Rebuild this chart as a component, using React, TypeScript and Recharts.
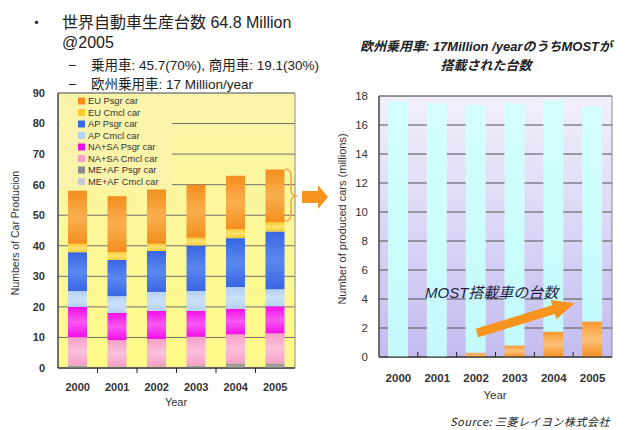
import { BarChart, Bar, XAxis, YAxis, CartesianGrid, ReferenceArea } from 'recharts';

// --- world production, millions of cars (stack order bottom -> top)
const years = ['2000', '2001', '2002', '2003', '2004', '2005'];
const meafCmcl = [0.3, 0.2, 0.2, 0.3, 0.4, 0.4];
const meafPsgr = [0.5, 0.3, 0.3, 0.5, 1.1, 1.1];
const nasaCmcl = [9.3, 8.6, 9.0, 9.4, 9.5, 9.8];
const nasaPsgr = [9.9, 8.9, 9.2, 8.5, 8.4, 8.9];
const apCmcl = [5.2, 5.5, 6.2, 6.5, 7.1, 5.6];
const apPsgr = [12.7, 11.9, 13.4, 14.9, 16.0, 18.9];
const euCmcl = [2.8, 2.6, 2.4, 2.5, 3.0, 3.0];
const euPsgr = [17.3, 18.2, 17.7, 17.4, 17.4, 17.3];
const leftTicks = [0, 10, 20, 30, 40, 50, 60, 70, 80, 90];

// --- EU passenger cars and cars fitted with MOST
const euTotal = [17.6, 17.5, 17.4, 17.5, 17.7, 17.3];
const mostCars = [0, 0, 0.3, 0.8, 1.75, 2.45];
const rightTicks = [0, 2, 4, 6, 8, 10, 12, 14, 16, 18];

const series = [
  { key: 'meafCmcl', name: 'ME+AF Cmcl car', values: meafCmcl, color: '#c8c8d6', light: '#d8d8e2' },
  { key: 'meafPsgr', name: 'ME+AF Psgr car', values: meafPsgr, color: '#8a8a8e', light: '#a4a4a8' },
  { key: 'nasaCmcl', name: 'NA+SA Cmcl car', values: nasaCmcl, color: '#f5a0c8', light: '#fbc0da' },
  { key: 'nasaPsgr', name: 'NA+SA Psgr car', values: nasaPsgr, color: '#f010e8', light: '#f858f0' },
  { key: 'apCmcl', name: 'AP Cmcl car', values: apCmcl, color: '#b4d0f4', light: '#cce0f8' },
  { key: 'apPsgr', name: 'AP Psgr car', values: apPsgr, color: '#3866e4', light: '#5a88ee' },
  { key: 'euCmcl', name: 'EU Cmcl car', values: euCmcl, color: '#f8cc30', light: '#fce070' },
  { key: 'euPsgr', name: 'EU Psgr car', values: euPsgr, color: '#f38e1c', light: '#f9b050' },
];

const worldData = years.map((year, i) => {
  const row: Record<string, any> = { year };
  series.forEach((s) => {
    row[s.key] = s.values[i];
  });
  return row;
});

const euData = years.map((year, i) => ({
  year,
  most: mostCars[i],
  rest: +(euTotal[i] - mostCars[i]).toFixed(2),
}));

const FONT = "'Liberation Sans', 'Noto Sans CJK JP', sans-serif";
const JP = "'Noto Sans CJK JP', 'Liberation Sans', sans-serif";

const L_BAND = (295 - 58) / years.length;
const R_BAND = (612 - 379) / years.length;

function LeftYearTick(props: any) {
  const { x, y, payload, index } = props;
  return (
    <g>
      {index < years.length - 1 && (
        <line x1={x + L_BAND / 2} x2={x + L_BAND / 2} y1={y} y2={y + 5} stroke="#222" />
      )}
      <text x={x} y={y + 23} textAnchor="middle" fontSize={11} fontWeight="bold" fill="#333" fontFamily={FONT}>
        {payload.value}
      </text>
    </g>
  );
}

function RightYearTick(props: any) {
  const { x, y, payload, index } = props;
  return (
    <g>
      {index < years.length - 1 && (
        <line x1={x + R_BAND / 2} x2={x + R_BAND / 2} y1={y} y2={y - 5} stroke="#222" />
      )}
      <text x={x} y={y + 25} textAnchor="middle" fontSize={11.5} fontWeight="bold" fill="#333" fontFamily={FONT}>
        {payload.value}
      </text>
    </g>
  );
}

function WorldChart() {
  return (
    <BarChart
      width={300}
      height={410}
      data={worldData}
      margin={{ top: 93, right: 5, left: 0, bottom: 0 }}
    >
      <defs>
        <linearGradient id="yellowBg" x1="0" y1="0" x2="0" y2="1">
          <stop offset="0%" stopColor="#faf4aa" />
          <stop offset="100%" stopColor="#fdfa88" />
        </linearGradient>
        {series.map((s) => (
          <linearGradient key={s.key} id={`g-${s.key}`} x1="0" y1="0" x2="0" y2="1">
            <stop offset="0%" stopColor={s.color} />
            <stop offset="50%" stopColor={s.light} />
            <stop offset="100%" stopColor={s.color} />
          </linearGradient>
        ))}
      </defs>
      <CartesianGrid vertical={false} stroke="#707070" fill="url(#yellowBg)" fillOpacity={1} />
      <XAxis
        dataKey="year"
        height={42}
        interval={0}
        tickSize={0}
        tickMargin={0}
        tick={<LeftYearTick />}
        axisLine={{ stroke: '#222' }}
      />
      <YAxis
        width={58}
        domain={[0, 90]}
        ticks={leftTicks}
        interval={0}
        tickSize={0}
        tickMargin={13}
        tick={{ fontSize: 11, fill: '#333', fontWeight: 'bold', fontFamily: FONT }}
        axisLine={{ stroke: '#222' }}
      />
      {series.map((s) => (
        <Bar
          key={s.key}
          dataKey={s.key}
          stackId="w"
          barSize={19}
          fill={`url(#g-${s.key})`}
          isAnimationActive={false}
        />
      ))}
      <ReferenceArea y1={0} y2={90} fill="none" stroke="#8a8a8a" ifOverflow="visible" />
    </BarChart>
  );
}

function EuChart() {
  return (
    <BarChart
      width={327}
      height={410}
      data={euData}
      margin={{ top: 96, right: 15, left: 0, bottom: 0 }}
    >
      <defs>
        <linearGradient id="lavBg" x1="0" y1="0" x2="0" y2="1">
          <stop offset="0%" stopColor="#f2f0fb" />
          <stop offset="100%" stopColor="#c4bcf0" />
        </linearGradient>
        <linearGradient id="mostFill" x1="0" y1="0" x2="0" y2="1">
          <stop offset="0%" stopColor="#f69a30" />
          <stop offset="50%" stopColor="#fbc078" />
          <stop offset="100%" stopColor="#f39020" />
        </linearGradient>
        <linearGradient id="cyanFill" x1="0" y1="0" x2="0" y2="1">
          <stop offset="0%" stopColor="#d4ffff" />
          <stop offset="100%" stopColor="#c4fafa" />
        </linearGradient>
      </defs>
      <CartesianGrid vertical={false} stroke="#505050" fill="url(#lavBg)" fillOpacity={1} />
      <XAxis
        dataKey="year"
        height={53}
        interval={0}
        tickSize={0}
        tickMargin={0}
        tick={<RightYearTick />}
        axisLine={{ stroke: '#222' }}
      />
      <YAxis
        width={79}
        domain={[0, 18]}
        ticks={rightTicks}
        interval={0}
        tickSize={0}
        tickMargin={11}
        tick={{ fontSize: 11.5, fill: '#333', fontFamily: FONT }}
        axisLine={{ stroke: '#222' }}
      />
      <Bar dataKey="most" stackId="e" barSize={20} fill="url(#mostFill)" isAnimationActive={false} />
      <Bar dataKey="rest" stackId="e" barSize={20} fill="url(#cyanFill)" isAnimationActive={false} />
      <ReferenceArea y1={0} y2={18} fill="none" stroke="#8a8a8a" ifOverflow="visible" />
    </BarChart>
  );
}

function Overlay() {
  const legendItems = [...series].reverse();
  return (
    <svg
      width={627}
      height={430}
      style={{ position: 'absolute', left: 0, top: 0, pointerEvents: 'none' }}
    >
      {/* headline text */}
      <text x={29} y={28} fontSize={15} fill="#222" fontFamily={JP}>・</text>
      <text x={62} y={28} fontSize={16} fill="#222" fontFamily={FONT}>世界自動車生産台数 64.8 Million</text>
      <text x={62} y={48} fontSize={16} fill="#222" fontFamily={FONT}>@2005</text>
      <text x={68} y={70} fontSize={14} fill="#222" fontFamily={FONT}>−</text>
      <text x={91} y={70} fontSize={13.5} fill="#222" fontFamily={FONT}>乗用車: 45.7(70%), 商用車: 19.1(30%)</text>
      <text x={68} y={89} fontSize={14} fill="#222" fontFamily={FONT}>−</text>
      <text x={91} y={89} fontSize={13.5} fill="#222" fontFamily={FONT}>欧州乗用車: 17 Million/year</text>

      {/* right title */}
      <text x={486} y={51} textAnchor="middle" fontSize={13} fontStyle="italic" fontWeight="bold" fill="#222" fontFamily={FONT}>
        欧州乗用車: 17Million /yearのうちMOSTが
      </text>
      <text x={486} y={70} textAnchor="middle" fontSize={13} fontStyle="italic" fontWeight="bold" fill="#222" fontFamily={FONT}>
        搭載された台数
      </text>

      {/* legend of the left chart */}
      <rect x={59} y={94} width={113} height={95} fill="#faf4aa" />
      {legendItems.map((s, i) => (
        <g key={s.key}>
          <rect x={78} y={97.5 + i * 11.5} width={7} height={7} fill={s.color} />
          <text x={88} y={104.3 + i * 11.5} fontSize={9.3} fill="#333" fontFamily={FONT}>
            {s.name}
          </text>
        </g>
      ))}

      {/* axis titles */}
      <text
        x={0}
        y={0}
        transform="translate(19,233) rotate(-90)"
        textAnchor="middle"
        fontSize={10.5}
        fill="#333"
        fontFamily={FONT}
      >
        Numbers of Car Producion
      </text>
      <text x={176} y={406} textAnchor="middle" fontSize={11} fill="#333" fontFamily={FONT}>Year</text>
      <text
        x={0}
        y={0}
        transform="translate(346,219) rotate(-90)"
        textAnchor="middle"
        fontSize={11}
        fill="#333"
        fontFamily={FONT}
      >
        Number of produced cars (millions)
      </text>
      <text x={495} y={399} textAnchor="middle" fontSize={11.5} fill="#333" fontFamily={FONT}>Year</text>

      {/* brace and arrow linking the charts */}
      <path
        d="M285,169 Q291,169 291,176 L291,190 Q291,196 297,196 Q291,196 291,202 L291,215 Q291,221 285,221"
        fill="none"
        stroke="#f6a64a"
        strokeWidth={1.5}
      />
      <polygon points="302,191 318,191 318,185 328,197 318,209 318,203 302,203" fill="#f7941d" />

      {/* MOST annotation */}
      <text x={425} y={298} fontSize={15} fontStyle="italic" fill="#1e1e46" fontFamily={FONT}>
        MOST搭載車の台数
      </text>
      <g transform="translate(477,333) rotate(-17)">
        <polygon points="0,-4.5 80,-4.5 80,-10 102,0 80,10 80,4.5 0,4.5" fill="#f7941d" />
      </g>

      <text x={450} y={426} fontSize={11} fontStyle="italic" fill="#222" fontFamily={JP} letterSpacing={0.5}>
        Source: 三菱レイヨン株式会社
      </text>
    </svg>
  );
}

export default function App() {
  return (
    <div
      style={{
        position: 'absolute',
        left: 0,
        top: 0,
        width: 627,
        height: 430,
        background: '#fff',
        overflow: 'hidden',
        fontFamily: FONT,
      }}
    >
      <div style={{ position: 'absolute', left: 0, top: 0 }}>
        <WorldChart />
      </div>
      <div style={{ position: 'absolute', left: 300, top: 0 }}>
        <EuChart />
      </div>
      <Overlay />
    </div>
  );
}
